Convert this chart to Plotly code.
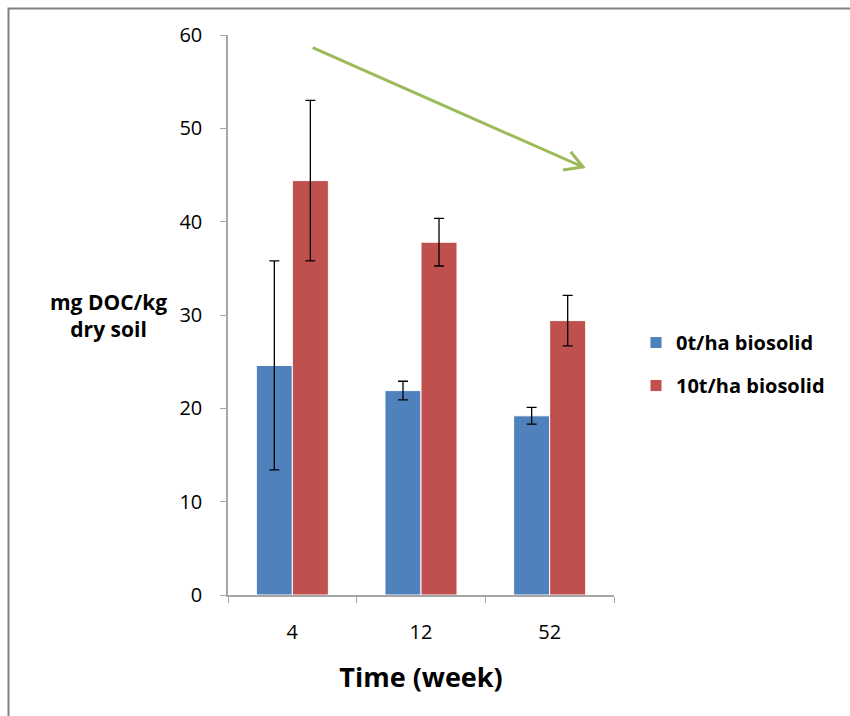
import plotly.graph_objects as go

# Dissolved organic carbon in soil after biosolid application
weeks = ["4", "12", "52"]
series_names = ["0t/ha biosolid", "10t/ha biosolid"]
doc_0t = [24.6, 21.9, 19.2]
doc_10t = [44.4, 37.8, 29.4]
err_0t = [11.2, 1.0, 0.9]
err_10t = [8.6, 2.55, 2.7]

colors = ["#4F81BD", "#C0504D"]
FONT = "Open Sans"

fig = go.Figure()
for name, vals, errs, col in zip(series_names, [doc_0t, doc_10t], [err_0t, err_10t], colors):
    fig.add_trace(go.Bar(
        x=weeks, y=vals, name=name, legendgroup=name,
        marker=dict(color=col, line=dict(color="white", width=1)),
        error_y=dict(type="data", array=errs, visible=True,
                     color="black", thickness=1.3, width=5),
    ))

# plot-area geometry (pixels) used to place decorations in paper coordinates
L, R, T, B = 228, 614, 35, 595
W, H = R - L, B - T
def px(x):
    return (x - L) / W
def py(y):
    return (B - y) / H

shapes = [
    # outer frame (top and left edges visible)
    dict(type="rect", xref="paper", yref="paper",
         x0=px(8.5), y0=py(760), x1=px(900), y1=py(8.5),
         line=dict(color="#808080", width=2), layer="below"),
    # downward trend arrow
    dict(type="path", xref="paper", yref="paper",
         path=f"M{px(312.7)},{py(47.7)} L{px(583)},{py(167)}",
         line=dict(color="#9BBB59", width=3)),
    dict(type="path", xref="paper", yref="paper",
         path=f"M{px(563)},{py(170)} L{px(583)},{py(167)} L{px(570.7)},{py(151.7)}",
         line=dict(color="#9BBB59", width=3)),
]

annotations = [
    dict(text="<b>mg DOC/kg<br>dry soil</b>", xref="paper", yref="paper",
         x=px(108), y=py(315), xanchor="center", yanchor="middle",
         showarrow=False, align="center",
         font=dict(family=FONT, size=21, color="black")),
]

fig.update_layout(
    width=850, height=716,
    margin=dict(l=L, r=850 - R, t=T, b=716 - B),
    paper_bgcolor="white", plot_bgcolor="white",
    barmode="group", bargap=0.44, bargroupgap=0.0,
    font=dict(family=FONT, size=20, color="black"),
    showlegend=True,
    legend=dict(x=px(636), y=py(323), xanchor="left", yanchor="top",
                font=dict(family=FONT, size=20, color="black", weight="bold"),
                tracegroupgap=14, itemwidth=30, bgcolor="rgba(0,0,0,0)"),
    xaxis=dict(
        title=dict(text="<b>Time (week)</b>", font=dict(family=FONT, size=27), standoff=24),
        showline=True, linecolor="#A6A6A6", linewidth=1.5,
        ticks="outside", tickson="boundaries", ticklen=6, tickcolor="#A6A6A6",
        showgrid=False, zeroline=False,
        tickfont=dict(family=FONT, size=20),
        ticklabelstandoff=18,
    ),
    yaxis=dict(
        range=[0, 60], dtick=10,
        showline=True, linecolor="#A6A6A6", linewidth=1.5,
        ticks="outside", ticklen=6, tickcolor="#A6A6A6",
        showgrid=False, zeroline=False,
        tickfont=dict(family=FONT, size=20),
        ticklabelstandoff=14,
    ),
    shapes=shapes,
    annotations=annotations,
)

# legend entries in stacked order
for i, t in enumerate(fig.data):
    t.legendrank = i

fig.write_html("out.html")
